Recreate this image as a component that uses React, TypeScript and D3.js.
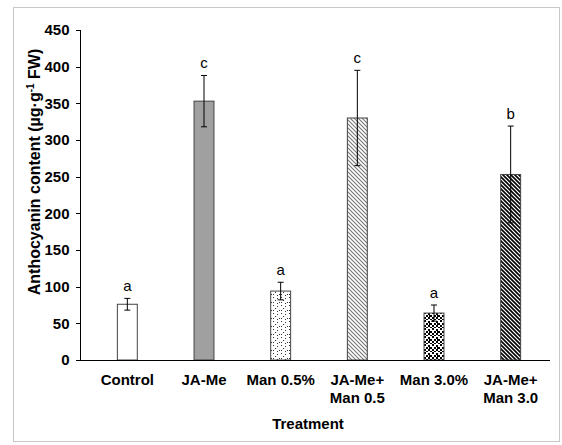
import { useEffect, useRef } from 'react'
import * as d3 from 'd3'

const TREATMENTS = ['Control', 'JA-Me', 'Man 0.5%', 'JA-Me+|Man 0.5', 'Man 3.0%', 'JA-Me+|Man 3.0']
const MEANS = [76, 353, 94, 330, 64, 253]
const ERRORS = [8, 35, 12, 65, 11, 66]
const LETTERS = ['a', 'c', 'a', 'c', 'a', 'b']
const FILLS = ['white', '#a0a0a0', 'url(#dots)', 'url(#diagLight)', 'url(#confetti)', 'url(#diagDark)']
const Y_TICKS = [0, 50, 100, 150, 200, 250, 300, 350, 400, 450]

// fixed positions for the scattered dot patterns (pattern cell 8x8)
const DOT_SPOTS = [[1, 1], [5, 2], [3, 4], [7, 6], [1, 6], [5, 7]]
const CONFETTI_SPOTS = [[0, 0], [4, 1], [2, 3], [6, 3], [0, 5], [4, 5], [2, 7], [6, 7], [5, 3]]

export default function App() {
  const svgRef = useRef<SVGSVGElement>(null)

  useEffect(() => {
    if (!svgRef.current) return
    const svg = d3.select(svgRef.current)
    svg.selectAll('*').remove()

    const font = 'Arial, "Liberation Sans", sans-serif'

    // Outer frame
    svg.append('rect')
      .attr('x', 13.5).attr('y', 7.5)
      .attr('width', 546).attr('height', 434)
      .attr('fill', 'white').attr('stroke', '#c8c8c8').attr('stroke-width', 1)

    const defs = svg.append('defs')

    const dots = defs.append('pattern')
      .attr('id', 'dots').attr('patternUnits', 'userSpaceOnUse')
      .attr('width', 8).attr('height', 8)
    dots.append('rect').attr('width', 8).attr('height', 8).attr('fill', 'white')
    DOT_SPOTS.forEach(([px, py]) => {
      dots.append('rect').attr('x', px).attr('y', py).attr('width', 1).attr('height', 1).attr('fill', '#333')
    })

    const confetti = defs.append('pattern')
      .attr('id', 'confetti').attr('patternUnits', 'userSpaceOnUse')
      .attr('width', 8).attr('height', 8)
    confetti.append('rect').attr('width', 8).attr('height', 8).attr('fill', 'white')
    CONFETTI_SPOTS.forEach(([px, py]) => {
      confetti.append('rect').attr('x', px).attr('y', py).attr('width', 2).attr('height', 2).attr('fill', '#000')
    })

    const diag = (id: string, size: number, color: string, w: number) => {
      const p = defs.append('pattern')
        .attr('id', id).attr('patternUnits', 'userSpaceOnUse')
        .attr('width', size).attr('height', size)
      p.append('rect').attr('width', size).attr('height', size).attr('fill', 'white')
      p.append('path')
        .attr('d', `M0,0 L${size},${size} M-1,${size - 1} L1,${size + 1} M${size - 1},-1 L${size + 1},1`)
        .attr('stroke', color).attr('stroke-width', w).attr('fill', 'none')
    }
    diag('diagLight', 4, '#777', 1.1)
    diag('diagDark', 4, '#000', 1.6)

    const left = 80
    const right = 550
    const top = 30
    const bottom = 360

    const y = d3.scaleLinear().domain([0, 450]).range([bottom, top])
    const x = d3.scaleBand().domain(TREATMENTS).range([89, 549]).paddingInner(0.74).paddingOuter(0.37)

    // Bars
    TREATMENTS.forEach((t, i) => {
      svg.append('rect')
        .attr('x', x(t)!)
        .attr('y', y(MEANS[i]))
        .attr('width', x.bandwidth())
        .attr('height', bottom - y(MEANS[i]))
        .attr('fill', FILLS[i])
        .attr('stroke', '#444')
        .attr('stroke-width', 1)
    })

    // Error bars + significance letters
    TREATMENTS.forEach((t, i) => {
      const cx = x(t)! + x.bandwidth() / 2
      const hi = y(MEANS[i] + ERRORS[i])
      const lo = y(MEANS[i] - ERRORS[i])
      const g = svg.append('g').attr('stroke', '#000').attr('stroke-width', 1)
      g.append('line').attr('x1', cx).attr('x2', cx).attr('y1', hi).attr('y2', lo)
      g.append('line').attr('x1', cx - 3).attr('x2', cx + 3).attr('y1', hi).attr('y2', hi)
      g.append('line').attr('x1', cx - 3).attr('x2', cx + 3).attr('y1', lo).attr('y2', lo)

      svg.append('text')
        .attr('x', cx)
        .attr('y', hi - 7)
        .attr('text-anchor', 'middle')
        .attr('font-family', font)
        .attr('font-size', 15)
        .attr('fill', '#000')
        .text(LETTERS[i])
    })

    // Y axis
    svg.append('line')
      .attr('x1', left + 0.5).attr('x2', left + 0.5)
      .attr('y1', top).attr('y2', bottom)
      .attr('stroke', '#000')
    Y_TICKS.forEach((v) => {
      svg.append('line')
        .attr('x1', left - 4).attr('x2', left)
        .attr('y1', Math.round(y(v)) + 0.5).attr('y2', Math.round(y(v)) + 0.5)
        .attr('stroke', '#000')
      svg.append('text')
        .attr('x', left - 10.5)
        .attr('y', y(v))
        .attr('dy', '0.35em')
        .attr('text-anchor', 'end')
        .attr('font-family', font)
        .attr('font-size', 15)
        .attr('font-weight', 700)
        .attr('fill', '#000')
        .text(v)
    })

    // X axis
    svg.append('line')
      .attr('x1', left).attr('x2', right)
      .attr('y1', bottom + 0.5).attr('y2', bottom + 0.5)
      .attr('stroke', '#000')

    TREATMENTS.forEach((t) => {
      const cx = x(t)! + x.bandwidth() / 2
      const txt = svg.append('text')
        .attr('text-anchor', 'middle')
        .attr('font-family', font)
        .attr('font-size', 15)
        .attr('font-weight', 700)
        .attr('fill', '#000')
      t.split('|').forEach((line, k) => {
        txt.append('tspan').attr('x', cx).attr('y', 385 + k * 18).text(line)
      })
    })

    // Axis titles
    svg.append('text')
      .attr('x', 308).attr('y', 429)
      .attr('text-anchor', 'middle')
      .attr('font-family', font)
      .attr('font-size', 15)
      .attr('font-weight', 700)
      .attr('fill', '#000')
      .text('Treatment')

    const yt = svg.append('text')
      .attr('transform', `translate(40,172) rotate(-90)`)
      .attr('text-anchor', 'middle')
      .attr('font-family', font)
      .attr('font-size', 16)
      .attr('font-weight', 700)
      .attr('fill', '#000')
    yt.append('tspan').text('Anthocyanin content (µg·g')
    yt.append('tspan').attr('font-size', 10).attr('dy', -6).text('-1')
    yt.append('tspan').attr('dy', 6).text(' FW)')
  }, [])

  return (
    <svg
      ref={svgRef}
      width={562}
      height={445}
      style={{ position: 'absolute', left: 0, top: 0, display: 'block' }}
    />
  )
}
